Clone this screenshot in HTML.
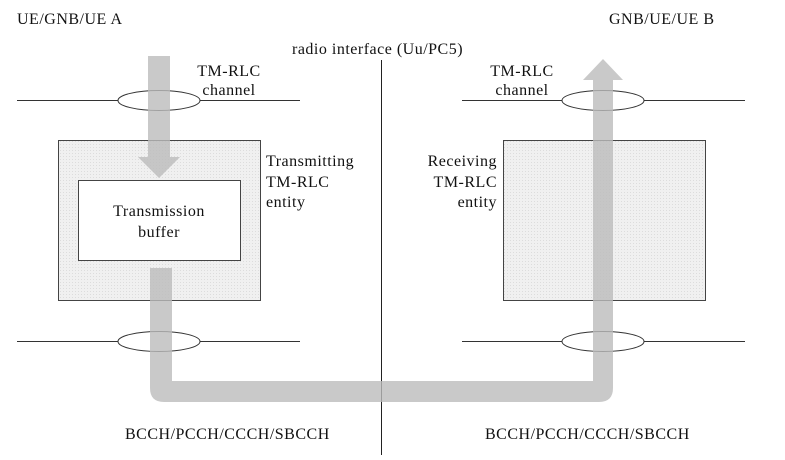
<!DOCTYPE html>
<html><head><meta charset="utf-8"><style>
body{margin:0;background:#fff}
svg text{font-family:"Liberation Serif",serif;font-size:16px;letter-spacing:0.5px;fill:#111}
</style></head><body>
<svg width="785" height="455" viewBox="0 0 785 455" xmlns="http://www.w3.org/2000/svg">
<defs>
<pattern id="d" width="3" height="3" patternUnits="userSpaceOnUse"><rect width="3" height="3" fill="#f0f0f0"/><rect width="1" height="1" fill="#dcdcdc"/></pattern>
</defs>
<rect x="58.5" y="140.5" width="202" height="160" fill="url(#d)" stroke="#444"/>
<rect x="78.5" y="180.5" width="162" height="80" fill="#fff" stroke="#444"/>
<rect x="503.5" y="140.5" width="202" height="160" fill="url(#d)" stroke="#444"/>
<line x1="381.5" y1="60" x2="381.5" y2="455" stroke="#222"/>
<line x1="17" y1="100.5" x2="300" y2="100.5" stroke="#333"/>
<line x1="17" y1="341.5" x2="300" y2="341.5" stroke="#333"/>
<line x1="462" y1="100.5" x2="745" y2="100.5" stroke="#333"/>
<line x1="462" y1="341.5" x2="745" y2="341.5" stroke="#333"/>
<ellipse cx="159" cy="100.5" rx="41" ry="10" fill="#fff" stroke="#333"/>
<ellipse cx="159" cy="341.5" rx="41" ry="10" fill="#fff" stroke="#333"/>
<ellipse cx="603" cy="100.5" rx="41" ry="10" fill="#fff" stroke="#333"/>
<ellipse cx="603" cy="341.5" rx="41" ry="10" fill="#fff" stroke="#333"/>
<path d="M148 56 H170 V157 H180 L159 178 L138 157 H148 Z" fill="#bbb" fill-opacity="0.8"/>
<path d="M150 268 H172 V381 H593 V80 H583 L603 59 L623 80 H613 V388 Q613 402 599 402 H164 Q150 402 150 388 Z" fill="#bbb" fill-opacity="0.8"/>
<text x="17" y="24">UE/GNB/UE A</text>
<text x="609" y="24">GNB/UE/UE B</text>
<text x="292" y="54">radio interface (Uu/PC5)</text>
<text x="229" y="76" text-anchor="middle">TM-RLC</text>
<text x="229" y="95" text-anchor="middle">channel</text>
<text x="522" y="76" text-anchor="middle">TM-RLC</text>
<text x="522" y="95" text-anchor="middle">channel</text>
<text x="266" y="166">Transmitting</text>
<text x="266" y="187">TM-RLC</text>
<text x="266" y="207">entity</text>
<text x="497" y="166" text-anchor="end">Receiving</text>
<text x="497" y="187" text-anchor="end">TM-RLC</text>
<text x="497" y="207" text-anchor="end">entity</text>
<text x="159" y="216" text-anchor="middle">Transmission</text>
<text x="159" y="237" text-anchor="middle">buffer</text>
<text x="125" y="439">BCCH/PCCH/CCCH/SBCCH</text>
<text x="485" y="439">BCCH/PCCH/CCCH/SBCCH</text>
</svg>
</body></html>
